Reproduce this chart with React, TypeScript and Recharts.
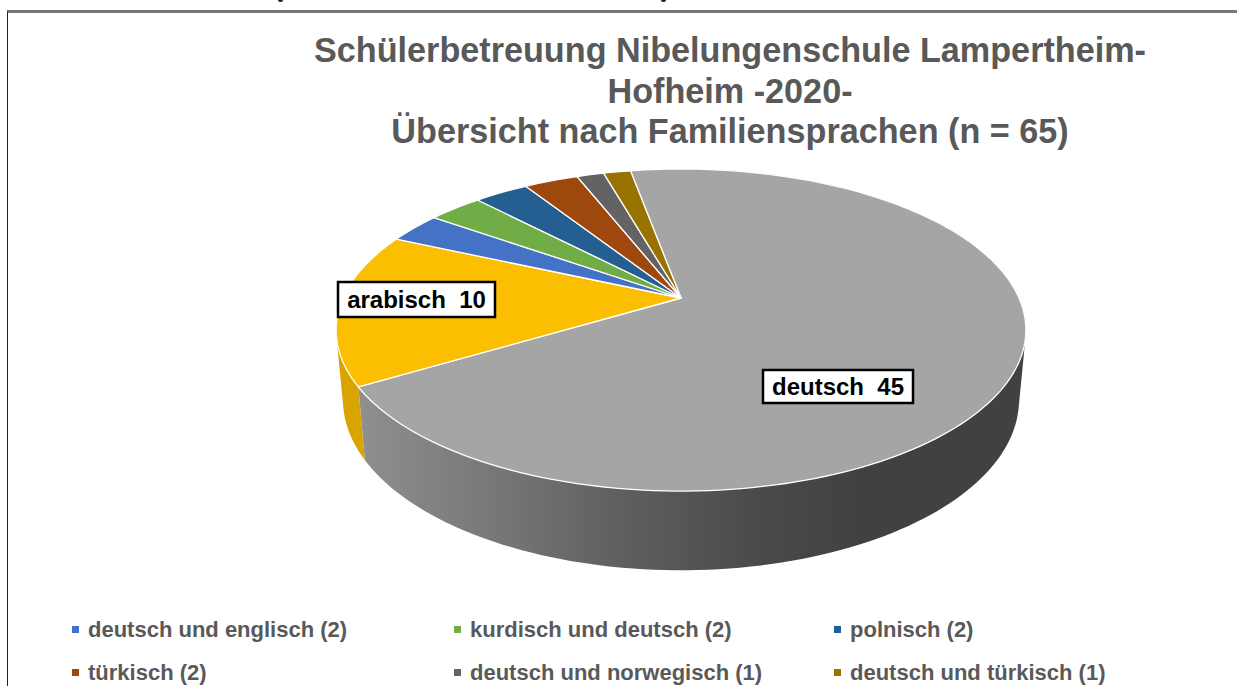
import { Legend, Pie, PieChart } from 'recharts'

const categories = [
  'deutsch',
  'arabisch',
  'deutsch und englisch',
  'kurdisch und deutsch',
  'polnisch',
  'türkisch',
  'deutsch und norwegisch',
  'deutsch und türkisch',
]
const counts = [45, 10, 2, 2, 2, 2, 1, 1]
const topColors = ['#A5A5A5', '#FBBE00', '#4472C4', '#70AD47', '#255E91', '#9E480E', '#636363', '#997300']
const wallColors = ['url(#wallGrey)', '#D9A300', '#3A62A8', '#60953C', '#1F5080', '#873D0C', '#545454', '#826200']
const titleLines = [
  'Schülerbetreuung Nibelungenschule Lampertheim-',
  'Hofheim -2020-',
  'Übersicht nach Familiensprachen (n = 65)',
]
const boxedCategories = ['deutsch', 'arabisch']

const rows = categories.map((name, i) => ({
  name,
  value: counts[i],
  fill: topColors[i],
}))
const wallRows = categories.map((name, i) => ({
  name,
  value: counts[i],
  fill: wallColors[i],
}))

const CX = 681
const CY = 298
const RADIUS = 338
// perspective of the tilted disc
const TILT = 0.4575
const PERSPECTIVE = 0.199
const DEPTH = 68
const WALL_SCALE_X = 0.98
const WALL_SCALE_Y = 1.058
const RAD = Math.PI / 180

const font = '"Liberation Sans", Arial, sans-serif'

type Pt = { x: number; y: number }

function rim(cx: number, cy: number, r: number, deg: number): Pt {
  const X = Math.cos(deg * RAD)
  const Y = Math.sin(deg * RAD)
  const w = 1 + PERSPECTIVE * Y
  return { x: cx + (r * X) / w, y: cy - (r * TILT * Y) / w }
}

function arc(start: number, end: number) {
  const steps = Math.max(2, Math.ceil(Math.abs(end - start) / 1.5))
  return Array.from({ length: steps + 1 }, (_, i) => start + ((end - start) * i) / steps)
}

function TopSlice(props: any) {
  const { cx, cy, outerRadius, startAngle, endAngle, fill } = props
  const pts = arc(startAngle, endAngle).map((a) => rim(cx, cy, outerRadius, a))
  const d = `M${cx},${cy} ` + pts.map((p) => `L${p.x},${p.y}`).join(' ') + ' Z'
  return <path d={d} fill={fill} stroke="#fff" strokeWidth={1.3} strokeLinejoin="round" />
}

function quadPath(q: Pt[]) {
  // same winding everywhere, or the quads past the silhouette cancel out
  const area = q.reduce((sum, p, i) => {
    const n = q[(i + 1) % q.length]
    return sum + p.x * n.y - n.x * p.y
  }, 0)
  const pts = area < 0 ? [...q].reverse() : q
  return pts.map((p, i) => `${i ? 'L' : 'M'}${p.x},${p.y}`).join(' ') + ' Z'
}

function WallSlice(props: any) {
  const { cx, cy, outerRadius, startAngle, endAngle, fill } = props
  const upper = arc(startAngle, endAngle).map((a) => rim(cx, cy, outerRadius, a))
  const lower = upper.map((p) => ({
    x: cx + (p.x - cx) * WALL_SCALE_X,
    y: cy + (p.y - cy) * WALL_SCALE_Y + DEPTH,
  }))
  // one quad per step so the outer edge runs straight from the top rim to the bottom rim
  const d = upper
    .slice(1)
    .map((p, i) => quadPath([upper[i], p, lower[i + 1], lower[i]]))
    .join(' ')
  return <path d={d} fill={fill} stroke="none" />
}

const labelBoxes: Record<string, { x: number; y: number; w: number; h: number }> = {
  deutsch: { x: 763, y: 370, w: 150, h: 33 },
  arabisch: { x: 338, y: 282, w: 157, h: 35 },
}

function BoxLabel(props: any) {
  const { name, value } = props
  if (!boxedCategories.includes(name)) return null
  const b = labelBoxes[name]
  return (
    <g>
      <rect x={b.x} y={b.y} width={b.w} height={b.h} fill="#fff" stroke="#000" strokeWidth={2.5} />
      <text
        x={b.x + b.w / 2}
        y={b.y + b.h / 2 + 8}
        textAnchor="middle"
        fill="#000"
        fontFamily={font}
        fontWeight="bold"
        fontSize={24}
        style={{ whiteSpace: 'pre' }}
      >
        {`${name}  ${value}`}
      </text>
    </g>
  )
}

function LegendGrid({ payload }: any) {
  // both pies report their sectors: keep the top faces, without the boxed ones
  const items = (payload ?? []).filter(
    (p: any) => topColors.includes(p.color) && !boxedCategories.includes(p.value),
  )
  return (
    <div style={{ display: 'grid', gridTemplateColumns: '382px 380px 300px', rowGap: 20 }}>
      {items.map((p: any) => (
        <div
          key={p.value}
          style={{
            display: 'flex',
            alignItems: 'center',
            height: 23,
            fontFamily: font,
            fontWeight: 'bold',
            fontSize: 22,
            color: '#595959',
            whiteSpace: 'nowrap',
          }}
        >
          <span style={{ width: 7, height: 7, background: p.color, marginRight: 9 }} />
          {`${p.value} (${counts[categories.indexOf(p.value)]})`}
        </div>
      ))}
    </div>
  )
}

export default function App() {
  return (
    <div
      style={{
        position: 'absolute',
        left: 0,
        top: 0,
        width: 1237,
        height: 686,
        overflow: 'hidden',
        background: '#fff',
      }}
    >
      <div style={{ position: 'absolute', left: 7, top: 10, right: 0, bottom: 0, borderTop: '3px solid #777', borderLeft: '1px solid #222' }} />
      <div style={{ position: 'absolute', left: 278, top: 0, width: 5, height: 2, background: '#222', borderRadius: '0 0 3px 3px' }} />
      <div style={{ position: 'absolute', left: 661, top: 0, width: 5, height: 2, background: '#222', borderRadius: '0 0 3px 3px' }} />
      <div
        style={{
          position: 'absolute',
          left: 230,
          width: 1000,
          top: 30,
          textAlign: 'center',
          fontFamily: font,
          fontWeight: 'bold',
          fontSize: 34.2,
          lineHeight: '40.5px',
          color: '#595959',
        }}
      >
        {titleLines.map((t) => (
          <div key={t}>{t}</div>
        ))}
      </div>
      <PieChart
        width={1237}
        height={686}
        margin={{ top: 0, right: 0, bottom: 0, left: 0 }}
        style={{ position: 'absolute', left: 0, top: 0 }}
      >
        <defs>
          <linearGradient id="wallGrey" gradientUnits="userSpaceOnUse" x1={361} y1={0} x2={1026} y2={0}>
            <stop offset="0" stopColor="#8f8f8f" />
            <stop offset="0.21" stopColor="#767676" />
            <stop offset="0.39" stopColor="#5f5f5f" />
            <stop offset="0.6" stopColor="#4a4a4a" />
            <stop offset="0.75" stopColor="#414141" />
            <stop offset="1" stopColor="#414141" />
          </linearGradient>
        </defs>
        <Pie
          data={wallRows}
          dataKey="value"
          nameKey="name"
          cx={CX}
          cy={CY}
          outerRadius={RADIUS}
          startAngle={100.3}
          endAngle={-259.7}
          shape={WallSlice}
          legendType="none"
          isAnimationActive={false}
        />
        <Pie
          data={rows}
          dataKey="value"
          nameKey="name"
          cx={CX}
          cy={CY}
          outerRadius={RADIUS}
          startAngle={100.3}
          endAngle={-259.7}
          shape={TopSlice}
          label={BoxLabel}
          labelLine={false}
          isAnimationActive={false}
        />
        <Legend
          content={<LegendGrid />}
          itemSorter={null}
          wrapperStyle={{ position: 'absolute', left: 72, top: 618, width: 1100, bottom: 'auto' }}
        />
      </PieChart>
    </div>
  )
}
